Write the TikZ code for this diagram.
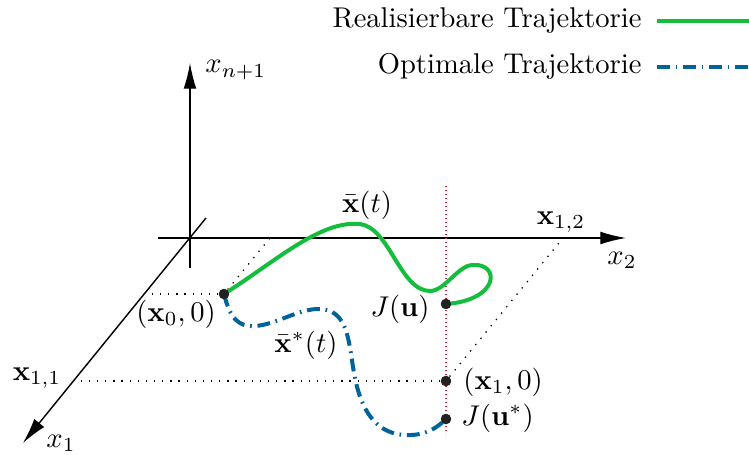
\documentclass[tikz,border=0pt]{standalone}
\usepackage{amsmath, amssymb}
\usepackage{tikz}
\usetikzlibrary{arrows.meta, calc, positioning}
\definecolor{trjGreen}{HTML}{14BE3C}
\definecolor{trjBlue}{HTML}{00639A}
\definecolor{dotgray}{HTML}{222222}
\definecolor{cutRed}{HTML}{D81E3C}
\tikzset{
  axis/.style={line width=0.5pt, -{Latex[length=9pt, width=4.5pt]}},
  guide/.style={line width=0.45pt, dash pattern=on 0.45pt off 2.4pt},
  realtrj/.style={trjGreen, line width=1.4pt},
  opttrj/.style={trjBlue, line width=1.4pt,
    dash pattern=on 4.5pt off 2pt on 0.6pt off 2pt},
  pt/.style={circle, fill=dotgray, inner sep=0pt, minimum size=3.6pt},
  lab/.style={inner sep=1pt}
}

\begin{document}
\begin{tikzpicture}[x=0.35pt, y=-0.35pt]
    \useasboundingbox (0,0) rectangle (749,455);
    % axes
    \coordinate (O) at (190,238);
    \coordinate (vbot) at (190,268);
    \coordinate (vtop) at (190,63);
    \coordinate (hleft) at (158,238);
    \coordinate (hright) at (626,238);
    \coordinate (dback) at (206,218);
    \coordinate (dfront) at (23,443);
    \draw[axis] (vbot) -- (vtop);
    \draw[axis] (hleft) -- (hright);
    \draw[axis] (dback) -- (dfront);
    \node[lab, anchor=west] (lxn) at (202,70) {$x_{n+1}$};
    \node[lab] (lx2) at (622,260) {$x_2$};
    \node[lab] (lx1) at (61,443) {$x_1$};
    \node[lab] (lx11) at (37,378) {$\mathbf{x}_{1,1}$};
    \node[lab] (lx12) at (561,222) {$\mathbf{x}_{1,2}$};
    % points
    \node[pt] (p0) at (224,294) {};
    \node[pt] (pJ) at (446,304) {};
    \node[pt] (p1) at (446,381) {};
    \node[pt] (pJs) at (446,419) {};
    % projections
    \coordinate (c0a) at (148,294);
    \coordinate (c0b) at (270,238);
    \coordinate (c1a) at (78,381);
    \coordinate (c1b) at (563,238);
    \draw[guide] (p0) -- (c0a);
    \draw[guide] (p0) -- (c0b);
    \draw[guide] (p1) -- (c1a);
    \draw[guide] (p1) -- (c1b);
    \coordinate (rtop) at (446,186);
    \coordinate (rbot) at (446,434);
    \draw[cutRed, densely dotted, line width=0.4pt] (rtop) -- (rbot);
    % trajectories
    \draw[realtrj] (p0.center) .. controls (275,262) and (320,220) .. (360,224)
      .. controls (390,228) and (400,291) .. (430,291)
      .. controls (445,291) and (458,265) .. (473,265)
      .. controls (500,263) and (500,300) .. (pJ.center);
    \draw[opttrj] (p0.center) .. controls (230,318) and (238,327) .. (255,326)
      .. controls (275,325) and (300,308) .. (320,309)
      .. controls (345,310) and (348,335) .. (352,360)
      .. controls (356,390) and (365,433) .. (405,435)
      .. controls (425,436) and (437,428) .. (pJs.center);
    \foreach \n in {p0,pJ,p1,pJs}
      \node[pt] at (\n) {};
    % labels
    \node[lab] (lp0) at (176,314) {$(\mathbf{x}_0,0)$};
    \node[lab] (lxb) at (367,205) {$\bar{\mathbf{x}}(t)$};
    \node[lab] (lxs) at (306,345) {$\bar{\mathbf{x}}^{*}(t)$};
    \node[lab, anchor=east] (lJ) at (433,309) {$J(\mathbf{u})$};
    \node[lab, anchor=west] (lp1) at (460,382) {$(\mathbf{x}_1,0)$};
    \node[lab, anchor=west] (lJs) at (458,418) {$J(\mathbf{u}^{*})$};
    % legend
    \node[lab, anchor=east] (lgR) at (645,21) {Realisierbare Trajektorie};
    \node[lab, anchor=east] (lgO) at (645,66) {Optimale Trajektorie};
    \coordinate (lgRa) at (657,21);
    \coordinate (lgRb) at (749,21);
    \coordinate (lgOa) at (657,67);
    \coordinate (lgOb) at (749,67);
    \draw[realtrj] (lgRa) -- (lgRb);
    \draw[opttrj] (lgOa) -- (lgOb);
\end{tikzpicture}
\end{document}
